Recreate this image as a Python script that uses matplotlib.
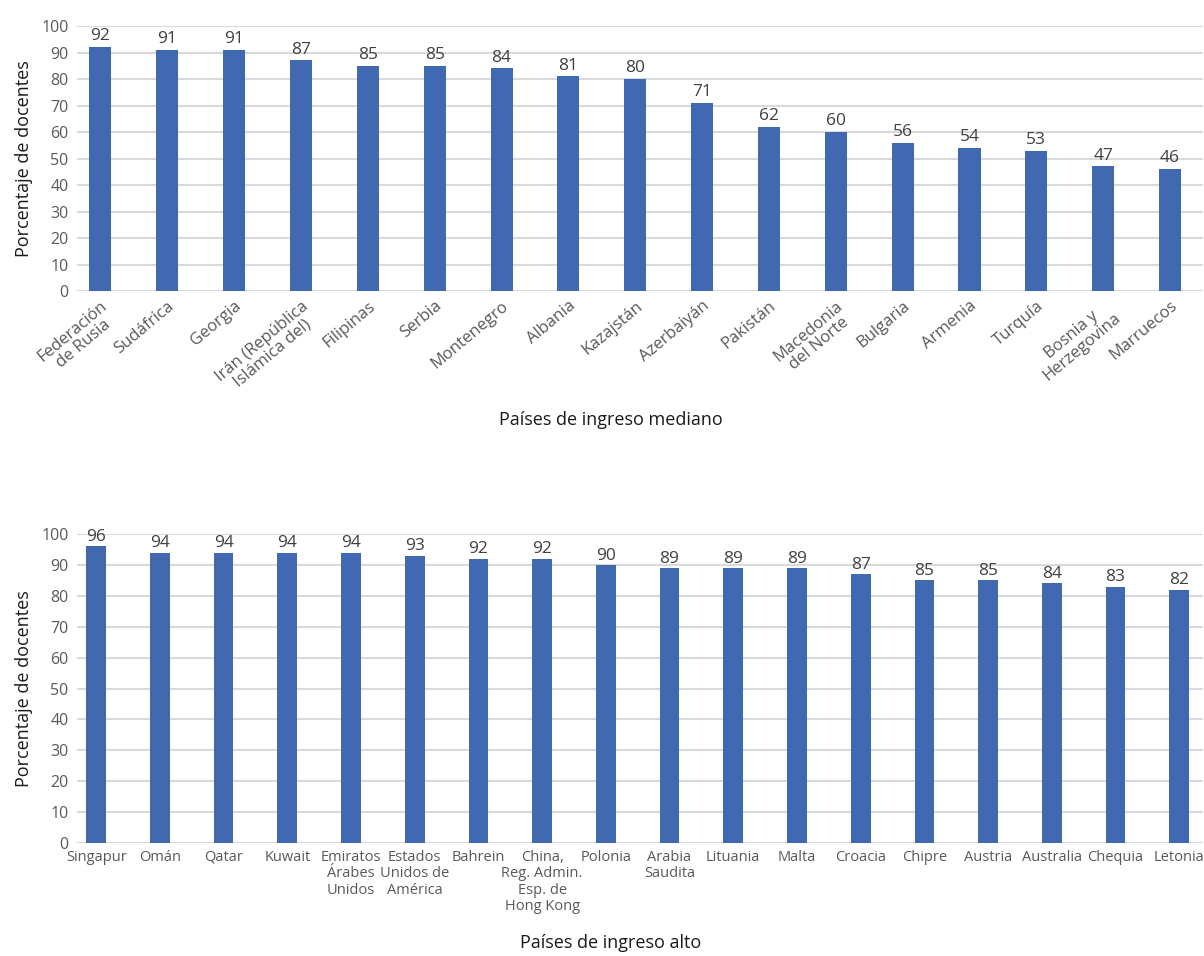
import matplotlib
matplotlib.use("Agg")
import matplotlib.pyplot as plt
import numpy as np

plt.rcParams['font.family'] = ['Open Sans', 'DejaVu Sans']

# Middle-income countries
paises_medio = ["Federación\nde Rusia", "Sudáfrica", "Georgia", "Irán (República\nIslámica del)",
                "Filipinas", "Serbia", "Montenegro", "Albania", "Kazajstán", "Azerbaiyán",
                "Pakistán", "Macedonia\ndel Norte", "Bulgaria", "Armenia", "Turquía",
                "Bosnia y\nHerzegovina", "Marruecos"]
valores_medio = [92, 91, 91, 87, 85, 85, 84, 81, 80, 71, 62, 60, 56, 54, 53, 47, 46]

# High-income countries
paises_alto = ["Singapur", "Omán", "Qatar", "Kuwait", "Emiratos\nÁrabes\nUnidos",
               "Estados\nUnidos de\nAmérica", "Bahrein", "China,\nReg. Admin.\nEsp. de\nHong Kong",
               "Polonia", "Arabia\nSaudita", "Lituania", "Malta", "Croacia", "Chipre",
               "Austria", "Australia", "Chequia", "Letonia"]
valores_alto = [96, 94, 94, 94, 94, 93, 92, 92, 90, 89, 89, 89, 87, 85, 85, 84, 83, 82]

yticks = list(range(0, 101, 10))

BAR = "#4069B2"
GRID = "#d9d9d9"
TICK = "#595959"
VAL = "#404040"
TITLE = "#1a1a1a"

fig = plt.figure(figsize=(12.04, 9.56), dpi=100)
ax1 = fig.add_axes([0.064, 0.6956, 0.935, 0.2772])
ax2 = fig.add_axes([0.064, 0.1182, 0.935, 0.3232])


def style(ax, n, left, right):
    ax.set_ylim(0, 100)
    ax.set_xlim(left, n - 1 + right)
    ax.set_yticks(yticks)
    ax.yaxis.grid(True, color=GRID, linewidth=1.5)
    ax.set_axisbelow(True)
    for s in ax.spines.values():
        s.set_visible(False)
    ax.tick_params(axis='both', length=0, colors=TICK)
    ax.tick_params(axis='y', pad=6, labelsize=11.5)
    ax.set_ylabel("Porcentaje de docentes", fontsize=13, color=TITLE, labelpad=6)


# Top panel
x1 = np.arange(len(paises_medio))
bars1 = ax1.bar(x1, valores_medio, width=0.33, color=BAR, zorder=2)
style(ax1, len(paises_medio), -0.35, 0.49)
ax1.set_xticks(x1)
ax1.set_xticklabels(paises_medio, rotation=40, ha='right', rotation_mode='anchor',
                    multialignment='center', fontsize=12, linespacing=1.0)
ax1.tick_params(axis='x', pad=5)
for rect, v in zip(bars1, valores_medio):
    ax1.annotate(f"{v}", (rect.get_x() + rect.get_width() / 2, v), xytext=(0, 2),
                 textcoords='offset points', ha='center', va='bottom',
                 fontsize=12.5, color=VAL)
fig.text(0.507, 1 - 420 / 956, "Países de ingreso mediano", ha='center', va='center',
         fontsize=13, color=TITLE)

# Bottom panel
x2 = np.arange(len(paises_alto))
bars2 = ax2.bar(x2, valores_alto, width=0.31, color=BAR, zorder=2)
style(ax2, len(paises_alto), -0.3, 0.37)
ax2.set_xticks(x2)
ax2.set_xticklabels(paises_alto, fontsize=10.5, va='top', linespacing=1.12)
ax2.tick_params(axis='x', pad=5)
for rect, v in zip(bars2, valores_alto):
    ax2.annotate(f"{v}", (rect.get_x() + rect.get_width() / 2, v), xytext=(0, 1),
                 textcoords='offset points', ha='center', va='bottom',
                 fontsize=12.5, color=VAL, annotation_clip=False)
fig.text(0.507, 1 - 943 / 956, "Países de ingreso alto", ha='center', va='center',
         fontsize=13, color=TITLE)

fig.savefig("out.png", dpi=100)
